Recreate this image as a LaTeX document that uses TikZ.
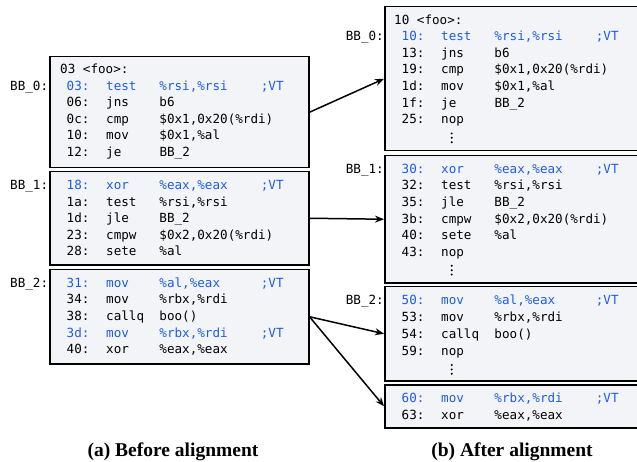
\documentclass[tikz,border=0pt]{standalone}
\usepackage{fontspec}
\setmainfont{Liberation Serif}
\setmonofont{DejaVu Sans Mono}
\usetikzlibrary{arrows.meta}
\definecolor{vtblue}{RGB}{28,92,236}
\definecolor{boxfill}{RGB}{243,244,247}
\newcommand\cl[4]{\makebox[39.5bp][l]{#1}\makebox[53.3bp][l]{#2}\makebox[101.4bp][l]{#3}#4}
\begin{document}
\begin{tikzpicture}[x=1bp,y=-1bp,
  bb/.style={draw=black, line width=1.5bp, fill=boxfill, inner sep=0pt, anchor=north west},
  code/.style={anchor=base west, inner sep=0pt, font=\ttfamily\fontsize{12.6bp}{15bp}\selectfont},
  vt/.style={code, text=vtblue},
  arr/.style={-{Stealth[length=9bp,width=7bp]}, line width=1.5bp},
  dotfill/.style={fill=black},
  captext/.style={anchor=base, inner sep=0pt, font=\bfseries\fontsize{19.5bp}{22bp}\selectfont}]
\useasboundingbox (0,0) rectangle (637,462);

% ---- left boxes
\node[bb, minimum width=259bp, minimum height=111bp] (L0) at (49,56) {};
\node[bb, minimum width=259bp, minimum height=93bp] (L1) at (49,171) {};
\node[bb, minimum width=259bp, minimum height=94bp] (L2) at (49,269) {};
% ---- right boxes
\node[bb, minimum width=258bp, minimum height=144bp] (R0) at (384,6) {};
\node[bb, minimum width=258bp, minimum height=127bp] (R1) at (384,155) {};
\node[bb, minimum width=258bp, minimum height=94bp] (R2) at (384,286) {};
\node[bb, minimum width=258bp, minimum height=43bp] (R3) at (384,384) {};

% ---- left labels
\node[code] (lb0) at (10,90.5) {BB\_0:};
\node[code] (lb1) at (10,190) {BB\_1:};
\node[code] (lb2) at (10,287.5) {BB\_2:};
% ---- right labels
\node[code] (rb0) at (345.7,40.7) {BB\_0:};
\node[code] (rb1) at (345.7,173.3) {BB\_1:};
\node[code] (rb2) at (345.7,305) {BB\_2:};

% ---- left BB_0
\node[code] (lh) at (60,74) {03 <foo>:};
\node[vt]   (l01) at (66.5,90.5)  {\cl{03:}{test}{\%rsi,\%rsi}{;VT}};
\node[code] (l02) at (66.5,107)   {\cl{06:}{jns}{b6}{}};
\node[code] (l03) at (66.5,123.5) {\cl{0c:}{cmp}{\$0x1,0x20(\%rdi)}{}};
\node[code] (l04) at (66.5,140)   {\cl{10:}{mov}{\$0x1,\%al}{}};
\node[code] (l05) at (66.5,156.5) {\cl{12:}{je}{BB\_2}{}};
% ---- left BB_1
\node[vt]   (l11) at (66.5,190)   {\cl{18:}{xor}{\%eax,\%eax}{;VT}};
\node[code] (l12) at (66.5,206.5) {\cl{1a:}{test}{\%rsi,\%rsi}{}};
\node[code] (l13) at (66.5,223)   {\cl{1d:}{jle}{BB\_2}{}};
\node[code] (l14) at (66.5,239.5) {\cl{23:}{cmpw}{\$0x2,0x20(\%rdi)}{}};
\node[code] (l15) at (66.5,256)   {\cl{28:}{sete}{\%al}{}};
% ---- left BB_2
\node[vt]   (l21) at (66.5,287.5) {\cl{31:}{mov}{\%al,\%eax}{;VT}};
\node[code] (l22) at (66.5,304)   {\cl{34:}{mov}{\%rbx,\%rdi}{}};
\node[code] (l23) at (66.5,320.5) {\cl{38:}{callq}{boo()}{}};
\node[vt]   (l24) at (66.5,337)   {\cl{3d:}{mov}{\%rbx,\%rdi}{;VT}};
\node[code] (l25) at (66.5,353.5) {\cl{40:}{xor}{\%eax,\%eax}{}};

% ---- right BB_0
\node[code] (rh) at (394,25) {10 <foo>:};
\node[vt]   (r01) at (401.5,40.7)  {\cl{10:}{test}{\%rsi,\%rsi}{;VT}};
\node[code] (r02) at (401.5,57.3)  {\cl{13:}{jns}{b6}{}};
\node[code] (r03) at (401.5,74)    {\cl{19:}{cmp}{\$0x1,0x20(\%rdi)}{}};
\node[code] (r04) at (401.5,90.7)  {\cl{1d:}{mov}{\$0x1,\%al}{}};
\node[code] (r05) at (401.5,107.3) {\cl{1f:}{je}{BB\_2}{}};
\node[code] (r06) at (401.5,124)   {\cl{25:}{nop}{}{}};
\fill[dotfill] (451.7,133.4) circle (1.1) (451.7,137.8) circle (1.1) (451.7,142.2) circle (1.1);
% ---- right BB_1
\node[vt]   (r11) at (401.5,173.3) {\cl{30:}{xor}{\%eax,\%eax}{;VT}};
\node[code] (r12) at (401.5,190)   {\cl{32:}{test}{\%rsi,\%rsi}{}};
\node[code] (r13) at (401.5,206.7) {\cl{35:}{jle}{BB\_2}{}};
\node[code] (r14) at (401.5,223.3) {\cl{3b:}{cmpw}{\$0x2,0x20(\%rdi)}{}};
\node[code] (r15) at (401.5,240)   {\cl{40:}{sete}{\%al}{}};
\node[code] (r16) at (401.5,256.7) {\cl{43:}{nop}{}{}};
\fill[dotfill] (451.7,265.8) circle (1.1) (451.7,270.2) circle (1.1) (451.7,274.6) circle (1.1);
% ---- right BB_2
\node[vt]   (r21) at (401.5,305)   {\cl{50:}{mov}{\%al,\%eax}{;VT}};
\node[code] (r22) at (401.5,321.7) {\cl{53:}{mov}{\%rbx,\%rdi}{}};
\node[code] (r23) at (401.5,338.3) {\cl{54:}{callq}{boo()}{}};
\node[code] (r24) at (401.5,355)   {\cl{59:}{nop}{}{}};
\fill[dotfill] (451.7,365) circle (1.1) (451.7,369.4) circle (1.1) (451.7,373.8) circle (1.1);
% ---- right last box
\node[vt]   (r31) at (401.5,402.7) {\cl{60:}{mov}{\%rbx,\%rdi}{;VT}};
\node[code] (r32) at (401.5,419.3) {\cl{63:}{xor}{\%eax,\%eax}{}};

% ---- arrows
\draw[arr] (L0.east) -- (R0.west);
\draw[arr] (L1.east) -- (R1.west);
\draw[arr] (L2.east) -- (R2.west);
\draw[arr] (L2.east) -- (R3.west);

% ---- captions
\node[captext] (capa) at (173,456) {(a) Before alignment};
\node[captext] (capb) at (512,456) {(b) After alignment};
\end{tikzpicture}
\end{document}
